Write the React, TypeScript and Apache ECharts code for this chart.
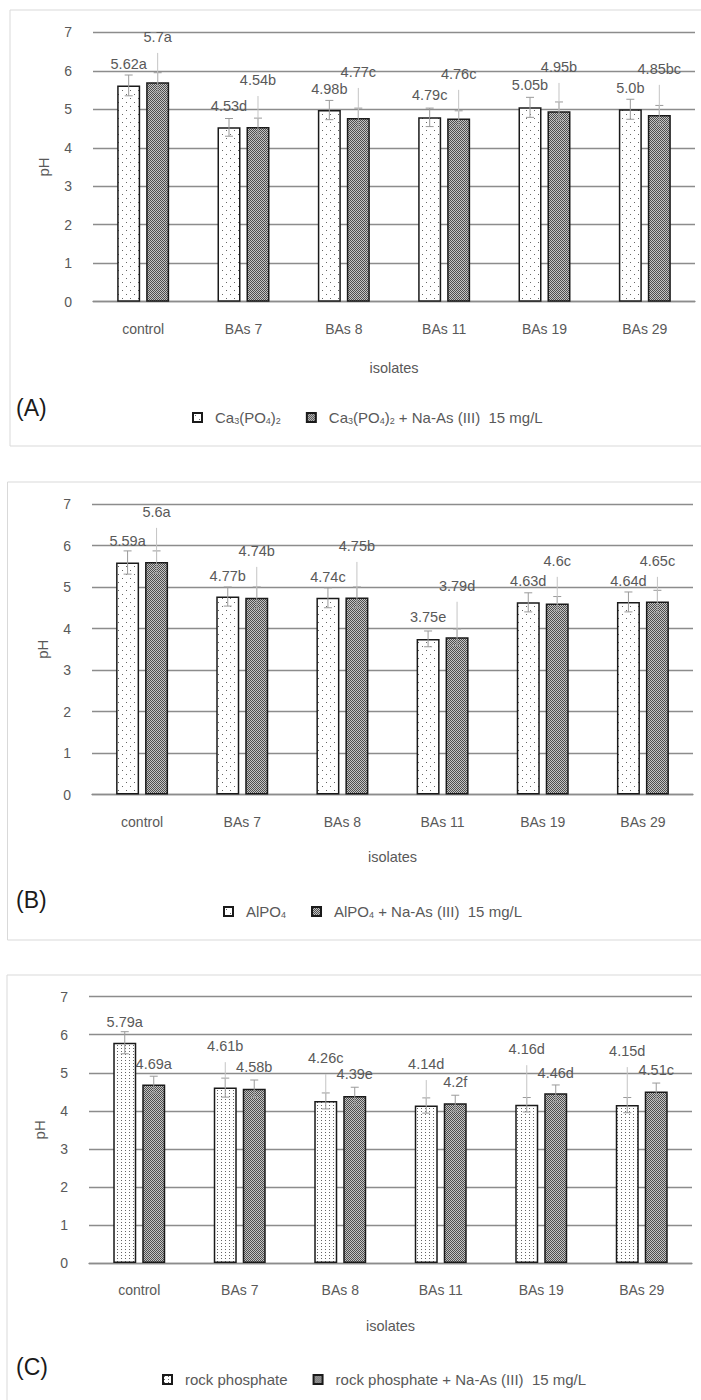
import React, { useEffect, useRef } from 'react';
import * as echarts from 'echarts';

// ---------------- data ----------------
const categories = ['control', 'BAs 7', 'BAs 8', 'BAs 11', 'BAs 19', 'BAs 29'];
const yMin = 0;
const yMax = 7;
const yInterval = 1;

// Panel A: Ca3(PO4)2
const aPlainName = 'Ca3(PO4)2';
const aArsName = 'Ca3(PO4)2 + Na-As (III) 15 mg/L';
const aPlain = [5.62, 4.53, 4.98, 4.79, 5.05, 5.0];
const aArs = [5.7, 4.54, 4.77, 4.76, 4.95, 4.85];
const aPlainLabels = ['5.62a', '4.53d', '4.98b', '4.79c', '5.05b', '5.0b'];
const aArsLabels = ['5.7a', '4.54b', '4.77c', '4.76c', '4.95b', '4.85bc'];
const aPlainErr = [0.27, 0.23, 0.25, 0.24, 0.26, 0.26];
const aArsErr = [0.25, 0.23, 0.26, 0.2, 0.24, 0.25];

// Panel B: AlPO4
const bPlainName = 'AlPO4';
const bArsName = 'AlPO4 + Na-As (III) 15 mg/L';
const bPlain = [5.59, 4.77, 4.74, 3.75, 4.63, 4.64];
const bArs = [5.6, 4.74, 4.75, 3.79, 4.6, 4.65];
const bPlainLabels = ['5.59a', '4.77b', '4.74c', '3.75e', '4.63d', '4.64d'];
const bArsLabels = ['5.6a', '4.74b', '4.75b', '3.79d', '4.6c', '4.65c'];
const bPlainErr = [0.28, 0.23, 0.24, 0.19, 0.23, 0.24];
const bArsErr = [0.27, 0.26, 0.25, 0.2, 0.17, 0.27];

// Panel C: rock phosphate
const cPlainName = 'rock phosphate';
const cArsName = 'rock phosphate + Na-As (III) 15 mg/L';
const cPlain = [5.79, 4.61, 4.26, 4.14, 4.16, 4.15];
const cArs = [4.69, 4.58, 4.39, 4.2, 4.46, 4.51];
const cPlainLabels = ['5.79a', '4.61b', '4.26c', '4.14d', '4.16d', '4.15d'];
const cArsLabels = ['4.69a', '4.58b', '4.39e', '4.2f', '4.46d', '4.51c'];
const cPlainErr = [0.29, 0.25, 0.21, 0.2, 0.19, 0.2];
const cArsErr = [0.22, 0.23, 0.23, 0.21, 0.22, 0.22];

// label placement (pH units where each data label sits)
const aPlainLabelAt = [6.18, 5.09, 5.53, 5.37, 5.63, 5.55];
const aArsLabelAt = [6.88, 5.76, 5.97, 5.92, 6.1, 6.05];
const bPlainLabelAt = [6.11, 5.27, 5.24, 4.28, 5.14, 5.14];
const bArsLabelAt = [6.81, 5.87, 5.99, 5.03, 5.63, 5.63];
const cPlainLabelAt = [6.34, 5.7, 5.39, 5.23, 5.62, 5.57];
const cArsLabelAt = [5.23, 5.15, 4.97, 4.76, 4.99, 5.07];

// ---------------- styles ----------------
const FONT = '"Liberation Sans", Arial, sans-serif';
const TXT = '#595959';
const GRID_LINE = '#8c8c8c';
const BAR_W = 23;
const BAR_GAP = 0.26;
const HALF = (BAR_W + BAR_W * BAR_GAP) / 2;

const richName: Record<string, string> = {
  [aPlainName]: '{n|Ca}{s|3}{n|(PO}{s|4}{n|)}{s|2}',
  [aArsName]: '{n|Ca}{s|3}{n|(PO}{s|4}{n|)}{s|2}{n| + Na-As (III)  15 mg/L}',
  [bPlainName]: '{n|AlPO}{s|4}',
  [bArsName]: '{n|AlPO}{s|4}{n| + Na-As (III)  15 mg/L}',
  [cPlainName]: '{n|rock phosphate}',
  [cArsName]: '{n|rock phosphate + Na-As (III)  15 mg/L}',
};

function makePattern(w: number, h: number, bg: string, pts: Array<[number, number, string]>) {
  const c = document.createElement('canvas');
  c.width = w;
  c.height = h;
  const ctx = c.getContext('2d')!;
  ctx.fillStyle = bg;
  ctx.fillRect(0, 0, w, h);
  pts.forEach(([x, y, col]) => {
    ctx.fillStyle = col;
    ctx.fillRect(x, y, 1, 1);
  });
  return { image: c, repeat: 'repeat', imageWidth: w, imageHeight: h } as any;
}

export default function App() {
  const ref = useRef<HTMLDivElement>(null);

  useEffect(() => {
    if (!ref.current) return;
    const chart = echarts.init(ref.current, undefined, { renderer: 'svg' });

    const dotsLight = makePattern(8, 8, '#ffffff', [
      [2, 2, '#666666'],
      [6, 6, '#666666'],
    ]);
    const dotsDense = makePattern(4, 3, '#ffffff', [
      [1, 1, '#666666'],
    ]);
    const checker = makePattern(2, 2, '#c4c4c4', [
      [0, 0, '#4e4e4e'],
      [1, 1, '#4e4e4e'],
    ]);

    const grids = [
      { left: 93, top: 32.3, width: 602, height: 269.4 },
      { left: 92, top: 504, width: 601, height: 290.5 },
      { left: 89, top: 996.7, width: 603, height: 266.3 },
    ];
    const nameGaps = [59, 55, 55];

    const panels = [
      {
        plainName: aPlainName, arsName: aArsName, plain: aPlain, ars: aArs,
        plainLabels: aPlainLabels, arsLabels: aArsLabels, plainErr: aPlainErr, arsErr: aArsErr,
        plainAt: aPlainLabelAt, arsAt: aArsLabelAt, plainFill: dotsLight,
      },
      {
        plainName: bPlainName, arsName: bArsName, plain: bPlain, ars: bArs,
        plainLabels: bPlainLabels, arsLabels: bArsLabels, plainErr: bPlainErr, arsErr: bArsErr,
        plainAt: bPlainLabelAt, arsAt: bArsLabelAt, plainFill: dotsLight,
      },
      {
        plainName: cPlainName, arsName: cArsName, plain: cPlain, ars: cArs,
        plainLabels: cPlainLabels, arsLabels: cArsLabels, plainErr: cPlainErr, arsErr: cArsErr,
        plainAt: cPlainLabelAt, arsAt: cArsLabelAt, plainFill: dotsDense,
      },
    ];

    const errorSeries = (g: number, values: number[], errs: number[], labels: string[], at: number[], side: number) => ({
      type: 'custom',
      xAxisIndex: g,
      yAxisIndex: g,
      z: 5,
      silent: true,
      data: values.map((v, i) => [i, v, errs[i], at[i]]),
      renderItem: (params: any, api: any) => {
        const i = api.value(0);
        const v = api.value(1);
        const e = api.value(2);
        const la = api.value(3);
        const c = api.coord([i, v]);
        const x = c[0] + side * HALF;
        const yBar = c[1];
        const yTop = api.coord([i, v + e])[1];
        const yBot = api.coord([i, v - e])[1];
        const yLab = api.coord([i, la])[1];
        const stroke = { stroke: '#9a9a9a', lineWidth: 1 };
        const children: any[] = [
          { type: 'line', shape: { x1: x, y1: yTop, x2: x, y2: yBot }, style: stroke },
          { type: 'line', shape: { x1: x - 4, y1: yTop, x2: x + 4, y2: yTop }, style: stroke },
          { type: 'line', shape: { x1: x - 4, y1: yBot, x2: x + 4, y2: yBot }, style: stroke },
        ];
        if (yBar - yLab > 32) {
          children.push({
            type: 'line',
            shape: { x1: x, y1: yLab + 16, x2: x, y2: yBar },
            style: { stroke: '#c4c4c4', lineWidth: 1 },
          });
        }
        children.push({
          type: 'text',
          x,
          y: yLab,
          style: {
            text: labels[params.dataIndex],
            fill: TXT,
            font: `14.5px ${FONT}`,
            align: 'center',
            verticalAlign: 'middle',
          },
        });
        return { type: 'group', children };
      },
    });

    const series: any[] = [];
    panels.forEach((p, g) => {
      series.push({
        type: 'bar',
        name: p.plainName,
        xAxisIndex: g,
        yAxisIndex: g,
        data: p.plain,
        barWidth: BAR_W,
        barGap: `${BAR_GAP * 100}%`,
        itemStyle: { color: p.plainFill, borderColor: '#1a1a1a', borderWidth: 1.5 },
      });
      series.push({
        type: 'bar',
        name: p.arsName,
        xAxisIndex: g,
        yAxisIndex: g,
        data: p.ars,
        barWidth: BAR_W,
        barGap: `${BAR_GAP * 100}%`,
        itemStyle: { color: checker, borderColor: '#1a1a1a', borderWidth: 1.5 },
      });
      series.push(errorSeries(g, p.plain, p.plainErr, p.plainLabels, p.plainAt, -1));
      series.push(errorSeries(g, p.ars, p.arsErr, p.arsLabels, p.arsAt, 1));
    });

    const legendPos = [
      { left: 187, top: 405 },
      { left: 218, top: 899 },
      { left: 157, top: 1367 },
    ];

    const option: any = {
      animation: false,
      backgroundColor: '#ffffff',
      textStyle: { fontFamily: FONT },
      grid: grids.map((g) => ({ ...g, containLabel: false })),
      xAxis: grids.map((_, g) => ({
        type: 'category',
        gridIndex: g,
        data: categories,
        name: 'isolates',
        nameLocation: 'middle',
        nameGap: nameGaps[g],
        nameTextStyle: { color: TXT, fontSize: 14.5, fontFamily: FONT },
        axisLine: { lineStyle: { color: GRID_LINE, width: 1.3 } },
        axisTick: { show: false },
        axisLabel: { color: TXT, fontSize: 14, fontFamily: FONT, margin: 20 },
      })),
      yAxis: grids.map((_, g) => ({
        type: 'value',
        gridIndex: g,
        min: yMin,
        max: yMax,
        interval: yInterval,
        name: 'pH',
        nameLocation: 'middle',
        nameRotate: 90,
        nameGap: 42,
        nameTextStyle: { color: TXT, fontSize: 15, fontFamily: FONT },
        axisLine: { show: false },
        axisTick: { show: false },
        axisLabel: { color: TXT, fontSize: 14, fontFamily: FONT, margin: 21 },
        splitLine: { lineStyle: { color: GRID_LINE, width: 1.3 } },
      })),
      legend: panels.map((p, g) => ({
        data: [p.plainName, p.arsName],
        left: legendPos[g].left,
        top: legendPos[g].top,
        orient: 'horizontal',
        icon: 'rect',
        itemWidth: 9,
        itemHeight: 9,
        itemGap: 25,
        selectedMode: false,
        formatter: (name: string) => richName[name] || name,
        textStyle: {
          color: TXT,
          fontFamily: FONT,
          fontSize: 15,
          padding: [0, 0, 0, 8],
          rich: {
            n: { color: TXT, fontSize: 15, fontFamily: FONT },
            s: { color: TXT, fontSize: 9, fontFamily: FONT, verticalAlign: 'bottom' },
          },
        },
      })),
      graphic: [
        { type: 'rect', shape: { x: 10, y: 10, width: 700, height: 436 }, style: { fill: 'none', stroke: '#d9d9d9', lineWidth: 1 }, silent: true, z: -10 },
        { type: 'rect', shape: { x: 7.5, y: 482, width: 700, height: 458 }, style: { fill: 'none', stroke: '#d9d9d9', lineWidth: 1 }, silent: true, z: -10 },
        { type: 'rect', shape: { x: 7, y: 975, width: 700, height: 440 }, style: { fill: 'none', stroke: '#d9d9d9', lineWidth: 1 }, silent: true, z: -10 },
        { type: 'text', left: 16, top: 396, style: { text: '(A)', fill: '#1a1a1a', font: `23px ${FONT}` } },
        { type: 'text', left: 16, top: 888, style: { text: '(B)', fill: '#1a1a1a', font: `23px ${FONT}` } },
        { type: 'text', left: 16, top: 1355, style: { text: '(C)', fill: '#1a1a1a', font: `23px ${FONT}` } },
      ],
      series,
    };

    chart.setOption(option);
    return () => chart.dispose();
  }, []);

  return (
    <div
      ref={ref}
      style={{ position: 'absolute', left: 0, top: 0, width: 701, height: 1400, background: '#fff' }}
    />
  );
}
